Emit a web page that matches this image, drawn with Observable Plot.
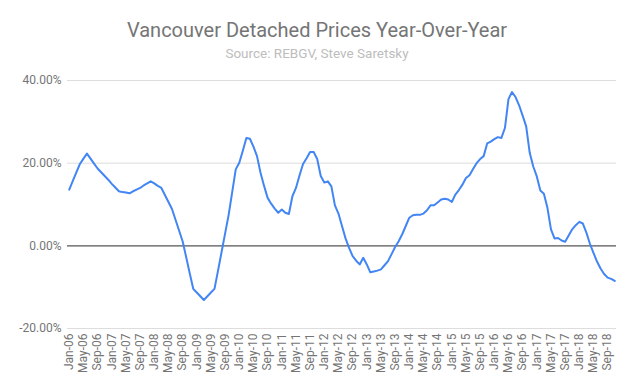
<!DOCTYPE html>
<html>
<head>
<meta charset="utf-8">
<script src="https://cdn.jsdelivr.net/npm/d3@7"></script>
<script src="https://cdn.jsdelivr.net/npm/@observablehq/plot@0.6"></script>
<style>
  html, body { margin: 0; padding: 0; background: #fff; }
  #wrap { position: relative; width: 634px; height: 392px; font-family: Roboto, "Noto Sans", sans-serif; }
  #title { position: absolute; top: 18px; left: 0; width: 634px; text-align: center; font-size: 20px; color: #757575; }
  #subtitle { position: absolute; top: 45px; left: 0; width: 634px; text-align: center; font-size: 13.5px; color: #bdbdbd; }
  #chart { position: absolute; top: 0; left: 0; }
</style>
</head>
<body>
<div id="wrap">
  <div id="chart"></div>
  <div id="title">Vancouver Detached Prices Year-Over-Year</div>
  <div id="subtitle">Source: REBGV, Steve Saretsky</div>
</div>
<script>
const monthNames = ["Jan","Feb","Mar","Apr","May","Jun","Jul","Aug","Sep","Oct","Nov","Dec"];
const years = ["06","07","08","09","10","11","12","13","14","15","16","17","18"];

// Year-over-year change (%), monthly Jan-06 .. Nov-18
const yoy = [
  13.6, 15.7, 17.8, 19.8, 21.1, 22.3, 21.1, 19.9, 18.7, 17.8, 16.9, 16.0,   // 2006
  15.0, 14.1, 13.2, 13.0, 12.9, 12.7, 13.2, 13.6, 14.0, 14.6, 15.1, 15.6,   // 2007
  15.1, 14.5, 14.0, 12.3, 10.6, 8.9, 6.3, 3.7, 1.1, -2.7, -6.6, -10.4,      // 2008
  -11.3, -12.2, -13.1, -12.2, -11.3, -10.4, -6.0, -1.5, 3.0, 7.5, 13.0, 18.5, // 2009
  20.1, 23.0, 26.1, 25.9, 24.0, 21.7, 17.7, 14.5, 11.6, 10.2, 9.0, 8.0,     // 2010
  8.8, 8.0, 7.7, 12.0, 14.0, 17.0, 19.8, 21.2, 22.7, 22.7, 21.0, 16.9,      // 2011
  15.3, 15.6, 14.4, 9.8, 7.8, 4.8, 1.8, -0.5, -2.5, -3.6, -4.5, -2.9,       // 2012
  -4.5, -6.4, -6.2, -6.0, -5.7, -4.7, -3.7, -2.0, -0.3, 1.1, 2.8, 4.8,      // 2013
  6.8, 7.4, 7.5, 7.5, 7.8, 8.6, 9.8, 9.8, 10.5, 11.2, 11.4, 11.2,           // 2014
  10.6, 12.4, 13.5, 14.8, 16.4, 17.1, 18.6, 20.0, 21.0, 21.7, 24.8, 25.2,   // 2015
  25.8, 26.3, 26.1, 28.5, 35.5, 37.2, 36.0, 34.0, 31.5, 28.9, 22.5, 19.2,   // 2016
  16.8, 13.4, 12.6, 9.2, 4.0, 1.8, 1.9, 1.3, 1.0, 2.5, 4.0, 5.0,            // 2017
  5.8, 5.4, 3.2, 0.5, -1.7, -3.8, -5.5, -6.8, -7.7, -8.0, -8.5              // 2018
];

const months = years.flatMap(y => monthNames.map(m => `${m}-${y}`)).slice(0, yoy.length);
const tickLabels = months.filter((d, i) => i % 4 === 0);
const yTicks = [-20, 0, 20, 40];

const data = months.map((m, i) => ({month: m, value: yoy[i]}));

const chart = Plot.plot({
  width: 634,
  height: 392,
  marginLeft: 67,
  marginRight: 18,
  marginTop: 80,
  marginBottom: 64,
  style: {fontFamily: "Roboto, sans-serif", fontSize: "12px", color: "#757575", background: "transparent"},
  x: {type: "point", domain: months, padding: 0.5, label: null},
  y: {domain: [-20, 40], label: null},
  marks: [
    Plot.ruleY(yTicks.filter(d => d !== 0), {stroke: "#dddddd", strokeWidth: 1}),
    Plot.ruleY([0], {stroke: "#555555", strokeWidth: 1.2}),
    Plot.axisY({ticks: yTicks, tickSize: 0, tickPadding: 6, tickFormat: d => d.toFixed(2) + "%", label: null, fill: "#757575"}),
    Plot.axisX({ticks: tickLabels, tickSize: 0, tickPadding: 5, tickRotate: -90, label: null, fill: "#757575", fontSize: 12}),
    Plot.line(data, {x: "month", y: "value", stroke: "#4285f4", strokeWidth: 2, curve: "linear"})
  ]
});
document.getElementById("chart").appendChild(chart);
</script>
</body>
</html>
